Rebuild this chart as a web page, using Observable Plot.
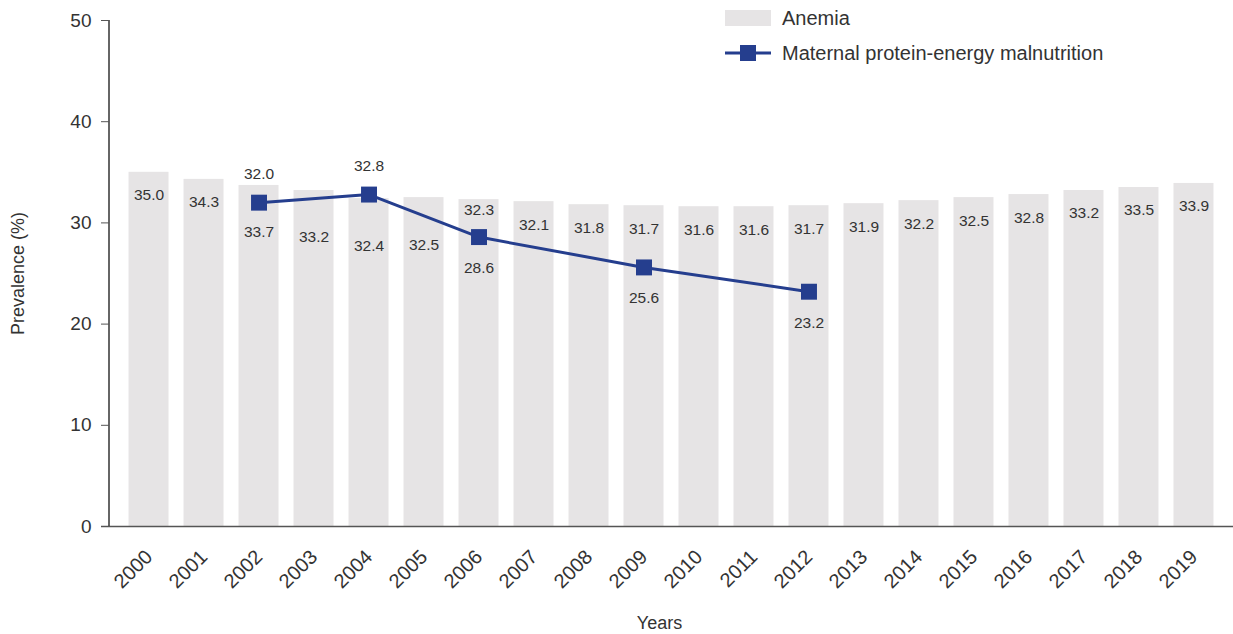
<!DOCTYPE html>
<html>
<head>
<meta charset="utf-8">
<script src="https://cdn.jsdelivr.net/npm/d3@7"></script>
<script src="https://cdn.jsdelivr.net/npm/@observablehq/plot@0.6"></script>
<style>
  html, body { margin: 0; padding: 0; background: #fff; }
  #chart { position: relative; width: 1233px; height: 634px; font-family: "Liberation Sans", Arial, sans-serif; color: #333; }
  #chart svg { display: block; }
  .legend { position: absolute; left: 725px; font-size: 20px; color: #333; }
  .legend-row { position: absolute; left: 0; display: flex; align-items: center; white-space: nowrap; }
  .legend-row span { margin-left: 11px; }
</style>
</head>
<body>
<div id="chart"></div>
<script>
// ---- data ----
const years = ["2000","2001","2002","2003","2004","2005","2006","2007","2008","2009",
               "2010","2011","2012","2013","2014","2015","2016","2017","2018","2019"];
const anemia = [35.0,34.3,33.7,33.2,32.4,32.5,32.3,32.1,31.8,31.7,
                31.6,31.6,31.7,31.9,32.2,32.5,32.8,33.2,33.5,33.9];
const pemYears = ["2002","2004","2006","2009","2012"];
const pemValues = [32.0,32.8,28.6,25.6,23.2];
const yTicks = [0,10,20,30,40,50];
const seriesNames = ["Anemia","Maternal protein-energy malnutrition"];

const barColor = "#e6e4e5";
const lineColor = "#253e8e";
const textColor = "#333333";

const bars = years.map((year, i) => ({year, value: anemia[i]}));
const pem = pemYears.map((year, i) => ({year, value: pemValues[i]}));

// label placement groups (bar labels pushed away from the line)
const loweredBarLabels = new Set(["2002","2003","2004","2005"]);
const raisedBarLabels = new Set(["2006"]);
const pemLabelsAbove = new Set(["2002","2004"]);

const fmt = d => d.value.toFixed(1);

const plot = Plot.plot({
  width: 1233,
  height: 634,
  marginLeft: 109,
  marginRight: 0,
  marginTop: 20,
  marginBottom: 108,
  style: {fontFamily: "'Liberation Sans', Arial, sans-serif", color: textColor, background: "#fff"},
  x: {domain: years, paddingInner: 0.2727, paddingOuter: 0.355, round: false, label: null},
  y: {domain: [0, 50], label: null},
  marks: [
    Plot.barY(bars, {x: "year", y: "value", fill: barColor}),
    Plot.ruleY([0], {stroke: "#555", strokeWidth: 1.5, insetLeft: -8}),
    // y axis line
    (index, scales, values, dimensions) => {
      const x0 = dimensions.marginLeft;
      const g = d3.create("svg:line")
        .attr("x1", x0).attr("x2", x0)
        .attr("y1", scales.y(50)).attr("y2", scales.y(0))
        .attr("stroke", "#333").attr("stroke-width", 1.5);
      return g.node();
    },
    Plot.axisY({ticks: yTicks, tickSize: 8, tickPadding: 10, fontSize: 19, stroke: "#555", label: null}),
    Plot.axisX({tickRotate: -45, tickSize: 0, tickPadding: 27, fontSize: 20, label: null}),
    Plot.text(bars.filter(d => !loweredBarLabels.has(d.year) && !raisedBarLabels.has(d.year)),
      {x: "year", y: "value", text: fmt, dy: 23, fontSize: 15.5, fill: textColor}),
    Plot.text(bars.filter(d => loweredBarLabels.has(d.year)),
      {x: "year", y: "value", text: fmt, dy: 47, fontSize: 15.5, fill: textColor}),
    Plot.text(bars.filter(d => raisedBarLabels.has(d.year)),
      {x: "year", y: "value", text: fmt, dy: 10, fontSize: 15.5, fill: textColor}),
    Plot.line(pem, {x: "year", y: "value", stroke: lineColor, strokeWidth: 3}),
    Plot.dot(pem, {x: "year", y: "value", symbol: "square", r: 9, fill: lineColor, stroke: "none"}),
    Plot.text(pem.filter(d => pemLabelsAbove.has(d.year)),
      {x: "year", y: "value", text: fmt, dy: -29, fontSize: 15.5, fill: textColor}),
    Plot.text(pem.filter(d => !pemLabelsAbove.has(d.year)),
      {x: "year", y: "value", text: fmt, dy: 31, fontSize: 15.5, fill: textColor}),
    Plot.text(["Prevalence (%)"], {text: d => d, frameAnchor: "left", textAnchor: "middle", rotate: -90, dx: -91, fontSize: 18, fill: textColor}),
    Plot.text(["Years"], {text: d => d, frameAnchor: "bottom", dy: 102, dx: -12, fontSize: 18, fill: textColor})
  ]
});

const chart = document.getElementById("chart");
chart.appendChild(plot);

// legend overlay
const legend = document.createElement("div");
legend.className = "legend";
legend.style.top = "0px";
legend.innerHTML = `
  <div class="legend-row" style="top:6px;">
    <svg width="46" height="24"><rect x="0" y="4" width="46" height="16" fill="${barColor}"></rect></svg>
    <span>${seriesNames[0]}</span>
  </div>
  <div class="legend-row" style="top:41px;">
    <svg width="46" height="24"><line x1="0" x2="46" y1="12" y2="12" stroke="${lineColor}" stroke-width="3"></line>
      <rect x="15" y="4" width="16" height="16" fill="${lineColor}"></rect></svg>
    <span>${seriesNames[1]}</span>
  </div>`;
chart.appendChild(legend);
</script>
</body>
</html>
